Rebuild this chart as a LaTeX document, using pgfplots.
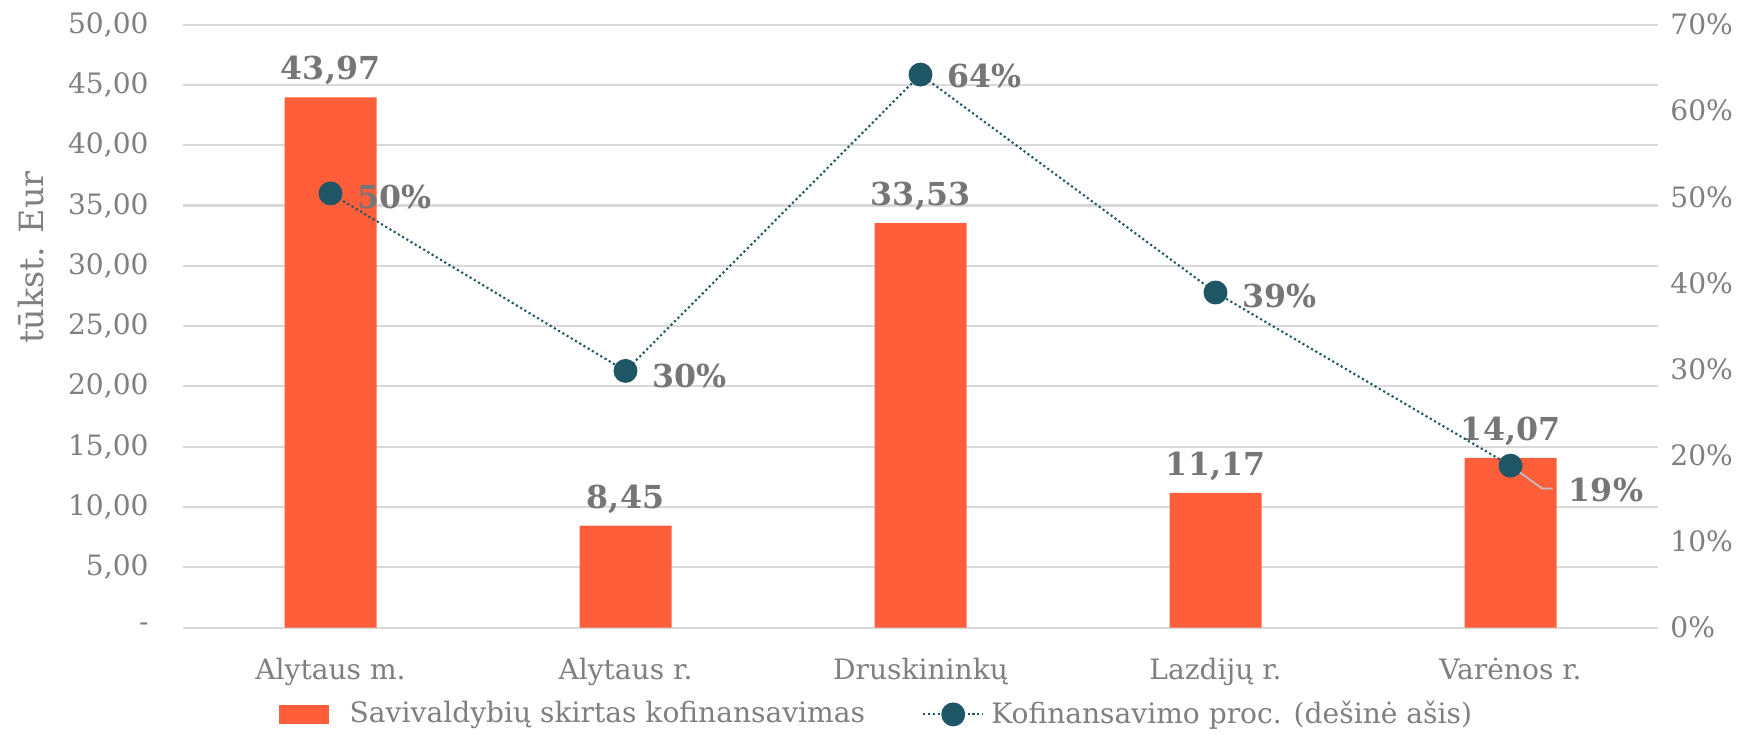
\documentclass[border=0pt]{standalone}
\usepackage{pgfplots}
\pgfplotsset{compat=1.18}
\usepackage{pgfplotstable}
\usepackage{fontspec}
\setmainfont{DejaVu Serif}

\definecolor{barc}{HTML}{FF5E3A}
\definecolor{dotc}{HTML}{1F5666}
\definecolor{txtc}{HTML}{7F7F7F}
\definecolor{lblc}{HTML}{767676}
\definecolor{gridc}{HTML}{D9D9D9}

% bars: tukst. Eur
\pgfplotstableread{
x val
0 43.97
1 8.45
2 33.53
3 11.17
4 14.07
}\bars

% line: percent, label, label offsets (pt)
\pgfplotstableread{
x val lab dx dy
0 50.4 50 4 -1
1 29.8 30 4 -1.5
2 64.2 64 4 -0.5
3 38.9 39 4 -1
4 18.8 19 13 -7
}\proc

\pgfplotsset{
  base/.style={
    width=14.75cm, height=6.03cm, scale only axis,
    xmin=-0.5, xmax=4.5,
    enlargelimits=false, clip=false,
    axis line style={draw=none},
    major tick length=0pt,
    tick style={draw=none},
    /pgf/number format/assume math mode=true,
    ticklabel style={font=\fontsize{8}{9.5}\selectfont, text=txtc},
  },
}

\begin{document}
\begin{tikzpicture}
\useasboundingbox (-1.83,-1.07) rectangle (15.69,6.276);

\begin{axis}[
  base,
  ymin=0, ymax=50,
  ytick={0,5,...,50},
  yticklabels={{-},{5,00},{10,00},{15,00},{20,00},{25,00},{30,00},{35,00},{40,00},{45,00},{50,00}},
  yticklabel style={xshift=-0.22cm},
  xtick={0,...,4},
  xticklabels={Alytaus m., Alytaus r., Druskininkų, Lazdijų r., Varėnos r.},
  xticklabel style={yshift=-0.18cm},
  ymajorgrids,
  grid style={gridc, line width=0.6pt},
  ylabel={tūkst. Eur},
  every axis y label/.style={at={(rel axis cs:0,0.614)}, xshift=-1.52cm, rotate=90, anchor=center,
    font=\fontsize{9.5}{11}\selectfont, text=txtc},
]
\addplot [ybar, bar width=0.92cm, fill=barc, draw=none,
  nodes near coords={\pgfmathprintnumber[fixed,fixed zerofill,precision=2,use comma]{\pgfplotspointmeta}},
  every node near coord/.append style={font=\bfseries\fontsize{9}{11}\selectfont, text=lblc}]
  table [x=x, y=val] {\bars};
\end{axis}

\begin{axis}[
  base,
  ymin=0, ymax=70,
  ytick={0,10,...,70},
  yticklabels={0\%,10\%,20\%,30\%,40\%,50\%,60\%,70\%},
  yticklabel pos=right,
  xtick=\empty,
  legend columns=2,
  legend style={at={(0.472,-0.144)}, anchor=center, draw=none, fill=none,
    font=\fontsize{8}{9.5}\selectfont, text=txtc,
    /tikz/every even column/.append style={column sep=0.5cm}},
]
\addlegendimage{legend image code/.code={
  \fill [barc] (0cm,-0.09cm) rectangle (0.48cm,0.09cm);
  \path (0.62cm,0cm);}}
\addlegendentry{Savivaldybių skirtas kofinansavimas}
\addplot [dotc, line width=0.6pt, dash pattern=on 0.6pt off 0.8pt,
  mark=*, mark size=3.1pt, mark options={solid, fill=dotc, draw=dotc},
  point meta=explicit,
  visualization depends on={\thisrow{dx} \as \dx},
  visualization depends on={\thisrow{dy} \as \dy},
  nodes near coords={\pgfmathprintnumber{\pgfplotspointmeta}\%},
  every node near coord/.append style={anchor=west, xshift=\dx pt, yshift=\dy pt,
    font=\bfseries\fontsize{9}{11}\selectfont, text=lblc}]
  table [x=x, y=val, meta=lab] {\proc};
\addlegendentry{Kofinansavimo proc. (dešinė ašis)}
\draw [gray!50, line width=0.5pt] (axis cs:4,18.8) -- ++(9pt,-6.5pt) -- ++(3pt,0pt);
\end{axis}
\end{tikzpicture}
\end{document}
